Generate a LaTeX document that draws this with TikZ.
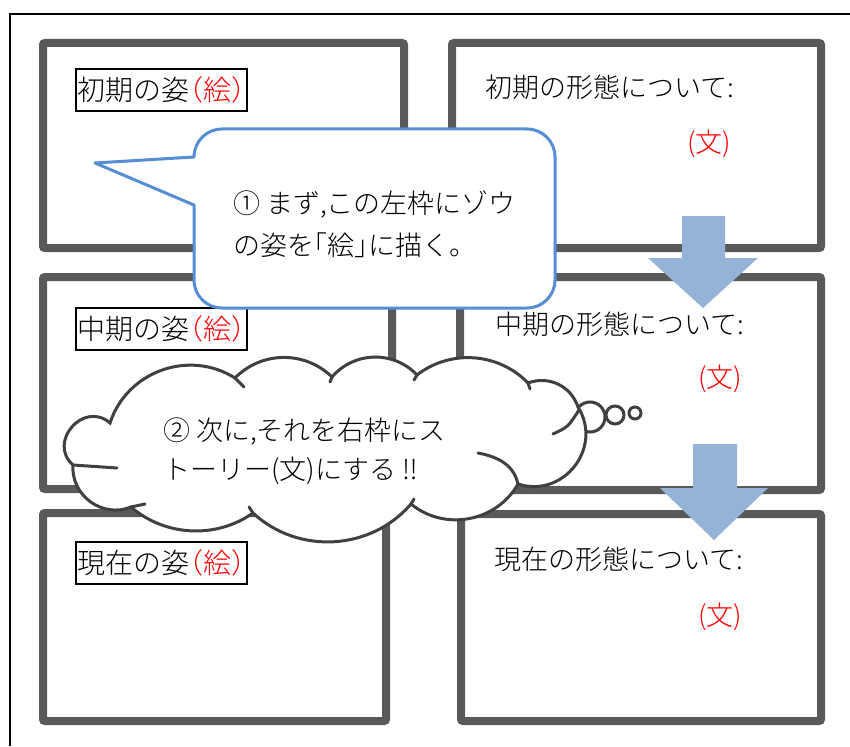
\documentclass[tikz,border=0pt]{standalone}
\usepackage{fontspec}
\IfFontExistsTF{Noto Sans CJK JP Light}{\setmainfont{Noto Sans CJK JP Light}}{\setmainfont{Noto Sans CJK JP}}
\usetikzlibrary{calc}
\definecolor{boxgray}{HTML}{595959}
\definecolor{cloudgray}{HTML}{404040}
\definecolor{arrowblue}{HTML}{95B3D7}
\definecolor{callblue}{HTML}{558ED5}
\newcommand{\jlp}{\makebox[0.5em][r]{（}}
\newcommand{\jrp}{\makebox[0.5em][l]{）}}
\newcommand{\jlb}{\makebox[0.5em][r]{「}}
\newcommand{\jrb}{\makebox[0.5em][l]{」}}
\newcommand{\cbump}[4]{.. controls ($(#1)!#3!-#4:(#2)$) and ($(#2)!#3!#4:(#1)$) .. (#2)}
\tikzset{
  panel/.style={draw=boxgray, line width=8pt, rounded corners=2pt, inner sep=0pt},
  lbl/.style={draw=black, line width=1.8pt, inner sep=0pt, minimum width=171pt, minimum height=42pt,
    font=\fontsize{28pt}{32pt}\selectfont, text height=24.5pt, text depth=3.5pt},
  txt/.style={anchor=west, inner sep=0pt, font=\fontsize{27pt}{32pt}\selectfont,
    text height=23.5pt, text depth=3.5pt},
  redtxt/.style={txt, text=red},
  blockarrow/.style={fill=arrowblue, draw=none},
  callout/.style={draw=callblue, fill=white, line width=3pt, line join=round},
  cloudline/.style={draw=cloudgray, line width=3pt, line cap=round},
}
\begin{document}
\begin{tikzpicture}[x=1pt, y=-1pt]
\useasboundingbox[fill=white] (0,0) rectangle (850,746);
% outer frame
\coordinate (fbl) at (10,746);
\coordinate (ftl) at (10,14);
\coordinate (ftr) at (850,14);
\draw[line width=2pt] (fbl) -- (ftl) -- (ftr);
% panels
\node[panel, minimum width=361pt, minimum height=205pt] (tl) at (223.5,145.5) {};
\node[panel, minimum width=369pt, minimum height=205pt] (tr) at (636.5,145.5) {};
\node[panel, minimum width=349pt, minimum height=212pt] (ml) at (217.5,383) {};
\node[panel, minimum width=361pt, minimum height=213pt] (mr) at (640.5,383.5) {};
\node[panel, minimum width=343pt, minimum height=208pt] (bl) at (214.5,617) {};
\node[panel, minimum width=360pt, minimum height=207pt] (br) at (641,617.5) {};
% left labels
\node[lbl] (tllbl) at (161.5,90) {初期の姿\textcolor{red}{\jlp 絵\jrp}};
\node[lbl] (mllbl) at (161.5,329) {中期の姿\textcolor{red}{\jlp 絵\jrp}};
\node[lbl] (bllbl) at (161.5,563) {現在の姿\textcolor{red}{\jlp 絵\jrp}};
% right texts
\node[txt] (trt) at (485,88) {初期の形態について:};
\node[redtxt] (trr) at (687,143) {(文)};
\node[txt] (mrt) at (495,324) {中期の形態について:};
\node[redtxt] (mrr) at (698,377) {(文)};
\node[txt] (brt) at (494,559) {現在の形態について:};
\node[redtxt] (brr) at (698,615) {(文)};
% block arrows
\fill[blockarrow] (682,216) -- (725,216) -- (725,258) -- (758,258) -- (703,308) -- (648,258) -- (682,258) -- cycle;
\fill[blockarrow] (693,444) -- (737,444) -- (737,488) -- (768,488) -- (714,540) -- (660,488) -- (693,488) -- cycle;
% speech callout
\path[callout] (95,163) -- (194,157)
  .. controls (194,141.5) and (206.5,129) .. (222,129) -- (527,129)
  .. controls (542.5,129) and (555,141.5) .. (555,157) -- (555,280)
  .. controls (555,295.5) and (542.5,308) .. (527,308) -- (222,308)
  .. controls (206.5,308) and (194,295.5) .. (194,280) -- (194,205) -- cycle;
\node[txt] (call1) at (233,203) {① まず,この左枠にゾウ};
\node[txt] (call2) at (233,245) {の姿を\jlb 絵\jrb に描く。};
% thought circles
\draw[cloudline, fill=white] (590,417) circle[radius=15];
\draw[cloudline, fill=white] (615,415) circle[radius=9];
\draw[cloudline, fill=white] (635,413) circle[radius=6];
% cloud
\coordinate (c1) at (110,423);
\coordinate (c2) at (73,465);
\coordinate (c3) at (131,507);
\coordinate (c4) at (253,513);
\coordinate (c5) at (411,504);
\coordinate (c6) at (518,484);
\coordinate (c7) at (578,407);
\coordinate (c8) at (528,383);
\coordinate (c9) at (417,375);
\coordinate (c10) at (332,377);
\coordinate (c11) at (235,378);
\path[cloudline, fill=white] (c1)
  \cbump{c1}{c2}{0.62}{90}
  \cbump{c2}{c3}{0.43}{58}
  \cbump{c3}{c4}{0.37}{38}
  \cbump{c4}{c5}{0.39}{46}
  \cbump{c5}{c6}{0.40}{50}
  \cbump{c6}{c7}{0.49}{70}
  \cbump{c7}{c8}{0.40}{46}
  \cbump{c8}{c9}{0.38}{42}
  \cbump{c9}{c10}{0.40}{48}
  \cbump{c10}{c11}{0.39}{45}
  \cbump{c11}{c1}{0.41}{52} -- cycle;
% inner tails of the cloud
\draw[cloudline] (c2) .. controls (95,466) .. (117,468);
\draw[cloudline] (c3) -- (145,504);
\draw[cloudline] (478,453) .. controls (505,458) and (515,470) .. (c6);
\draw[cloudline] (553,434) .. controls (568,427) .. (579,410);
\draw[cloudline] (c11) -- (244,387);
\draw[cloudline] (c4) -- (249,507);
\draw[cloudline] (c5) -- (414,499);
\draw[cloudline] (c8) -- (530,389);
\draw[cloudline] (c9) -- (414,380);
\draw[cloudline] (c10) -- (330,382);
\node[txt] (cl1) at (163,430) {② 次に,それを右枠にス};
\node[txt] (cl2) at (163,469) {トーリー(文)にする ‼};
\end{tikzpicture}
\end{document}
